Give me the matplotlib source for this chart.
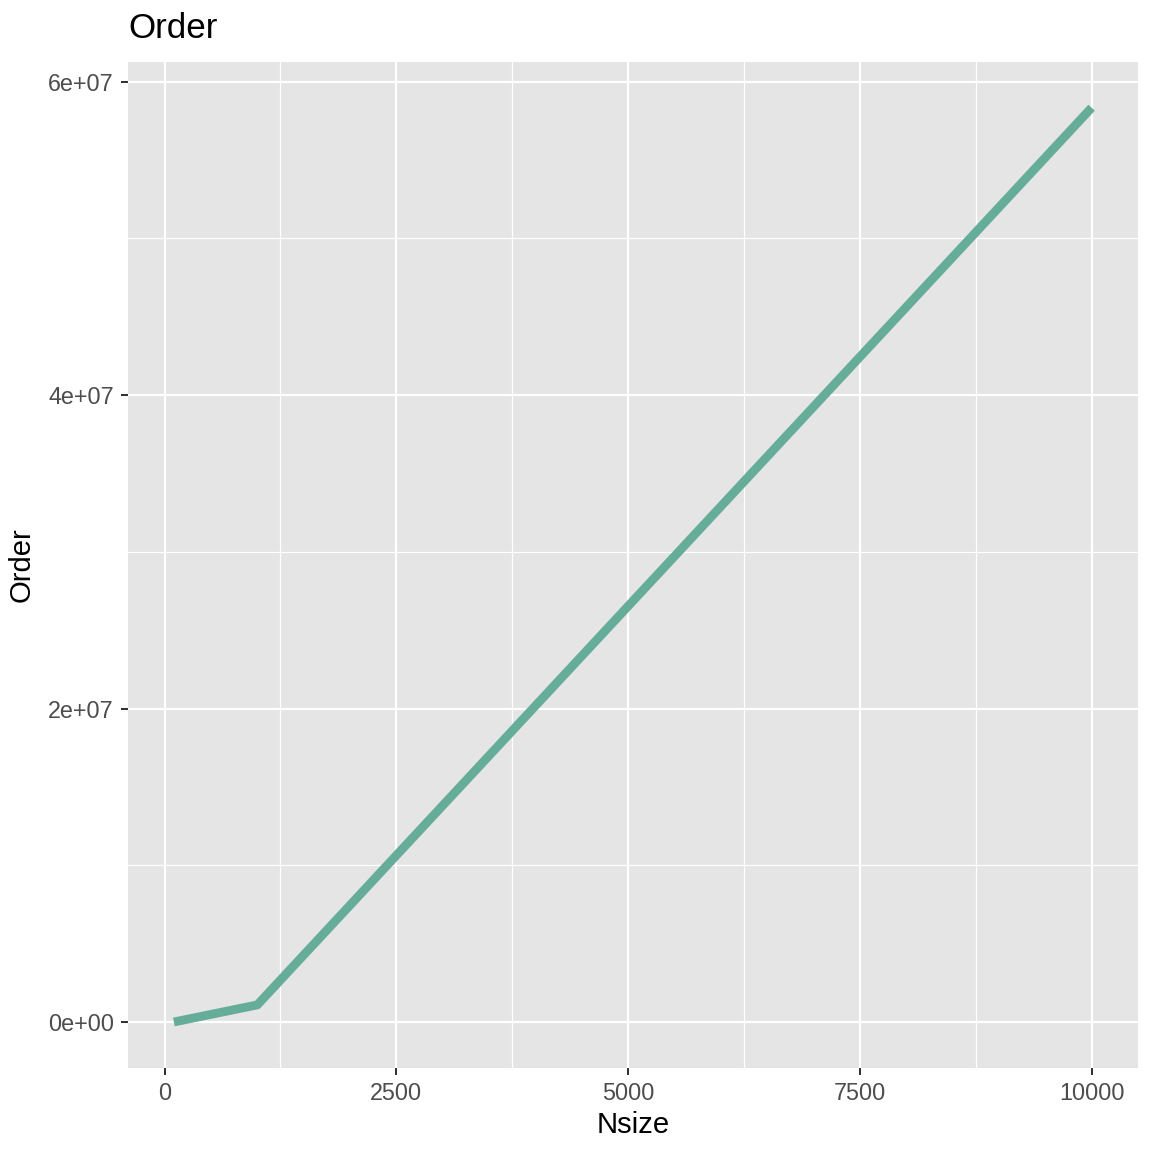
import matplotlib
matplotlib.use("Agg")
import matplotlib.pyplot as plt
from matplotlib.ticker import FixedLocator

# Data
nsize = [100, 1000, 10000]
order = [0.0, 1.09e6, 5.834e7]
x_ticks = [0, 2500, 5000, 7500, 10000]
x_minor = [1250, 3750, 6250, 8750]
y_ticks = [0, 2e7, 4e7, 6e7]
y_tick_labels = ["0e+00", "2e+07", "4e+07", "6e+07"]
y_minor = [1e7, 3e7, 5e7]

plt.rcParams['font.family'] = ['Liberation Sans', 'DejaVu Sans']

fig = plt.figure(figsize=(8, 8), dpi=144)
ax = fig.add_axes([128/1152, 1 - 1067.7/1152, (1137.5-128)/1152, (1067.7-62)/1152])
ax.set_facecolor("#E5E5E5")
for s in ax.spines.values():
    s.set_visible(False)

ax.plot(nsize, order, color="#66AD99", linewidth=4.4, solid_capstyle="butt", zorder=3)

xr = max(nsize) - min(nsize)
ax.set_xlim(min(nsize) - 0.05*xr, max(nsize) + 0.05*xr)
yr = max(order) - min(order)
ax.set_ylim(min(order) - 0.05*yr, max(order) + 0.05*yr)

ax.xaxis.set_major_locator(FixedLocator(x_ticks))
ax.xaxis.set_minor_locator(FixedLocator(x_minor))
ax.yaxis.set_major_locator(FixedLocator(y_ticks))
ax.yaxis.set_minor_locator(FixedLocator(y_minor))
ax.set_xticklabels([str(v) for v in x_ticks])
ax.set_yticklabels(y_tick_labels)

ax.grid(which="major", color="white", linewidth=1.1)
ax.grid(which="minor", color="white", linewidth=0.6)
ax.set_axisbelow(True)

ax.tick_params(which="major", length=3.6, width=1.0, color="#333333",
               labelcolor="#4D4D4D", labelsize=11.7, pad=3.5)
ax.tick_params(which="minor", length=0)

ax.set_xlabel("Nsize", fontsize=14.6, color="black", labelpad=3)
ax.set_ylabel("Order", fontsize=14.6, color="black", labelpad=6)
ax.set_title("Order", fontsize=17.5, loc="left", color="black", pad=12)

fig.savefig("out.png", dpi=144)
